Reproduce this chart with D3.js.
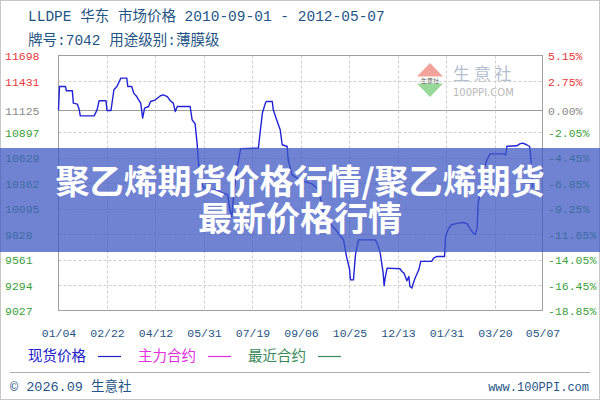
<!DOCTYPE html>
<html><head><meta charset="utf-8">
<script src="https://cdn.jsdelivr.net/npm/d3@7"></script>
<style>body{margin:0;background:#fff}svg{display:block}</style>
</head><body>
<svg id="c" width="600" height="400"></svg>
<script>
// ---------- data ----------
const titleLine1 = "LLDPE 华东 市场价格 2010-09-01 - 2012-05-07";
const titleLine2 = "牌号:7042 用途级别:薄膜级";
const startDate = "2011-01-04";
const endDate = "2012-05-07";
const dayOffsets = [0,1,7,8,14,15,19,21,22,36,39,41,48,49,53,56,59,63,69,70,74,76,79,83,84,85,87,91,93,98,103,106,110,113,116,118,120,133,135,138,140,141,143,147,158,171,173,175,177,181,184,202,204,206,209,210,216,217,221,224,226,231,232,236,244,256,263,266,269,280,288,291,294,295,298,300,303,320,322,325,328,329,330,332,345,347,349,352,354,355,357,360,364,366,377,379,382,390,391,394,397,404,409,413,416,419,421,423,424,426,428,433,436,450,452,453,463,466,469,473,476,477,479];
const prices = [11125,11373,11373,11328,11328,11199,11189,11129,11066,11066,11129,11224,11224,11122,11122,11339,11373,11461,11461,11373,11373,11304,11268,11199,11129,11042,11147,11164,11216,11234,11276,11286,11268,11224,11199,11111,11164,11164,11024,10983,10783,10637,10396,10312,10291,10239,10082,10008,10239,10553,10721,10728,10920,11095,11199,11216,11216,11129,11007,10920,10763,10745,10606,10448,10396,10354,10291,10134,9998,9872,9767,9592,9464,9348,9348,9610,9767,9767,9733,9631,9422,9286,9366,9471,9464,9435,9419,9338,9383,9278,9262,9359,9453,9542,9542,9576,9592,9592,9802,9883,9925,9942,9949,9935,9883,9838,9820,9893,10155,10260,10469,10606,10668,10668,10658,10747,10752,10773,10780,10763,10745,10658,10312];
const yTickValues = [11698,11431,11125,10897,10629,10362,10095,9828,9561,9294,9027];
const basePrice = 11125;
const pctLabels = ["5.15%","2.75%","0.00%","-2.05%","-4.45%","-6.85%","-9.25%","-11.65%","-14.05%","-16.45%","-18.85%"];
const xTickDates = ["2011-01-04","2011-02-22","2011-04-12","2011-05-31","2011-07-19","2011-09-06","2011-10-25","2011-12-13","2012-01-31","2012-03-20","2012-05-07"];
const xTickLabels = ["01/04","02/22","04/12","05/31","07/19","09/06","10/25","12/13","01/31","03/20","05/07"];
const legendNames = ["现货价格","主力合约","最近合约"];
const legendColors = ["#2020c8","#e030e0","#3a8a5a"];
const overlayLines = ["聚乙烯期货价格行情/聚乙烯期货","最新价格行情"];
const footerLeft = "© 2026.09 生意社";
const footerRight = "www.100PPI.com";
const wmBig = "生 意 社";
const wmSmall = "100PPI.COM";
const wmTiny = "生意社";

// ---------- layout ----------
const svg = d3.select("#c");
const L = 58.5, R = 542.5, T = 55.5, B = 310.5;
const mono = "'Liberation Mono','DejaVu Sans Mono','Noto Sans CJK SC',monospace";
const cjk = "'Noto Sans CJK SC','Noto Sans',sans-serif";
const parse = d3.utcParse("%Y-%m-%d");
const t0 = parse(startDate);

const x = d3.scaleUtc().domain([t0, parse(endDate)]).range([L, R]);
const y = d3.scaleLinear().domain([9027, 11698]).range([B, T]);

svg.append("rect").attr("x",0.5).attr("y",0.5).attr("width",599).attr("height",399)
  .attr("fill","#fff").attr("stroke","#c8c8c8");

// titles
svg.append("text").attr("x",28).attr("y",21).attr("font-family",mono).attr("font-size",14.5)
  .attr("fill","#1f5585").text(titleLine1);
svg.append("text").attr("x",28).attr("y",45).attr("font-family",mono).attr("font-size",14.5)
  .attr("fill","#1f5585").text(titleLine2);

// watermark
const wm = svg.append("g");
wm.append("path").attr("d","M430,63 L443,76.5 L417,76.5 Z").attr("fill","#f2a49a");
wm.append("path").attr("d","M417,83.5 L443,83.5 L430,97 Z").attr("fill","#98d898");
wm.append("text").attr("x",430).attr("y",82.5).attr("text-anchor","middle").attr("font-family",cjk)
  .attr("font-size",6).attr("fill","#555").text(wmTiny);
wm.append("text").attr("x",453).attr("y",80).attr("font-family",cjk).attr("font-size",17)
  .attr("fill","#b4c0d0").text(wmBig);
wm.append("text").attr("x",453).attr("y",96).attr("font-family","'DejaVu Sans',sans-serif").attr("font-size",10)
  .attr("fill","#b8b8b8").text(wmSmall);

// grid
const grid = svg.append("g");
yTickValues.slice(1, -1).forEach(v => {
  const yy = Math.round(y(v)) + 0.5;
  grid.append("line").attr("x1",L).attr("x2",R).attr("y1",yy).attr("y2",yy)
    .attr("stroke", v === basePrice ? "#9a9a9a" : "#cfcfcf")
    .attr("stroke-dasharray", v === basePrice ? null : "3,2");
});
xTickDates.slice(1, -1).forEach(d => {
  const xx = Math.round(x(parse(d))) + 0.5;
  grid.append("line").attr("x1",xx).attr("x2",xx).attr("y1",T).attr("y2",B)
    .attr("stroke","#cfcfcf").attr("stroke-dasharray","3,2");
});

// frame
svg.append("rect").attr("x",L).attr("y",T).attr("width",R-L).attr("height",B-T)
  .attr("fill","none").attr("stroke","#a0a0a0");

// axes labels
const colorFor = v => v > basePrice ? "#e8373a" : (v === basePrice ? "#8a8a8a" : "#3aa03a");
const yAxisL = d3.axisLeft(y).tickValues(yTickValues).tickSize(0).tickFormat(d => String(d));
const gL = svg.append("g").attr("transform",`translate(5,0)`).call(yAxisL);
gL.select(".domain").remove();
gL.selectAll("text").attr("text-anchor","start").attr("x",0).attr("dy","0.35em")
  .attr("font-family",mono).attr("font-size",11.5).attr("fill",d => colorFor(d));

const yAxisR = d3.axisRight(y).tickValues(yTickValues).tickSize(0)
  .tickFormat((d,i) => pctLabels[i]);
const gR = svg.append("g").attr("transform",`translate(548,0)`).call(yAxisR);
gR.select(".domain").remove();
gR.selectAll("text").attr("x",0).attr("dy","0.35em")
  .attr("font-family",mono).attr("font-size",11.5).attr("fill",d => colorFor(d));

const xAxis = d3.axisBottom(x).tickValues(xTickDates.map(parse)).tickSize(0)
  .tickFormat((d,i) => xTickLabels[i]);
const gX = svg.append("g").attr("transform",`translate(0,${B+15})`).call(xAxis);
gX.select(".domain").remove();
gX.selectAll("text").attr("font-family",mono).attr("font-size",11.5).attr("fill","#1f5585");

// series line
const pts = dayOffsets.map((d,i) => ({date: d3.utcDay.offset(t0, d), v: prices[i]}));
const line = d3.line().x(d => x(d.date)).y(d => y(d.v));
svg.append("path").datum(pts).attr("d",line).attr("fill","none")
  .attr("stroke","#2222d6").attr("stroke-width",1.4).attr("stroke-linejoin","round");

// legend
const leg = svg.append("g");
const legX = [28, 138, 248];
legendNames.forEach((n,i) => {
  leg.append("text").attr("x",legX[i]).attr("y",361).attr("font-family",cjk).attr("font-size",14.5)
    .attr("fill",legendColors[i]).text(n);
  leg.append("line").attr("x1",legX[i]+70).attr("x2",legX[i]+93).attr("y1",356.5).attr("y2",356.5)
    .attr("stroke",legendColors[i]).attr("stroke-width",1.2);
});

// separator + footer
svg.append("line").attr("x1",10).attr("x2",590).attr("y1",372.5).attr("y2",372.5).attr("stroke","#b0b0b0");
svg.append("text").attr("x",10).attr("y",391).attr("font-family",mono).attr("font-size",13.5)
  .attr("fill","#1f5585").text(footerLeft);
svg.append("text").attr("x",589).attr("y",391).attr("text-anchor","end").attr("font-family",mono)
  .attr("font-size",12).attr("fill","#1f5585").text(footerRight);

// overlay band
svg.append("rect").attr("x",0).attr("y",148).attr("width",600).attr("height",104)
  .attr("fill","rgba(62,88,195,0.74)");
const ov = svg.append("text").attr("text-anchor","middle")
  .attr("font-family",cjk).attr("font-weight",700).attr("font-size",34).attr("fill","#fff");
overlayLines.forEach((s,i) => {
  ov.append("tspan").attr("x",300).attr("y",194 + i*37).text(s);
});
</script>
</body></html>
